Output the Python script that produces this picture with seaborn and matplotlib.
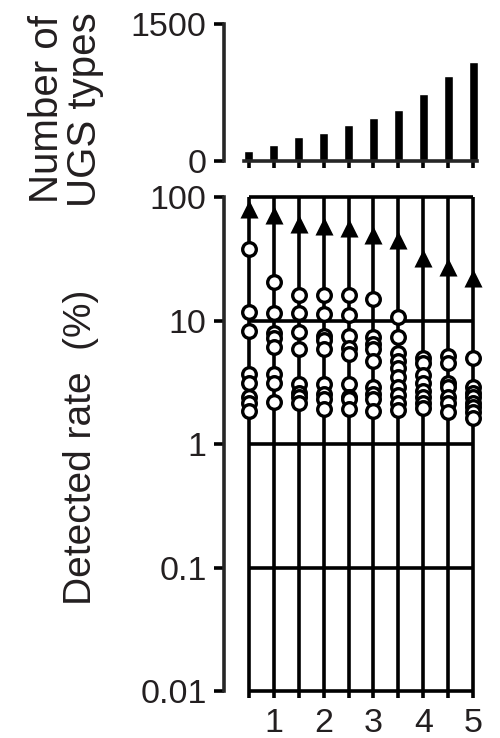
import matplotlib
matplotlib.use("Agg")
import matplotlib.pyplot as plt
import seaborn as sns
import pandas as pd
import numpy as np

# ---- data ----
groups = ["0.5", "1", "1.5", "2", "2.5", "3", "3.5", "4", "4.5", "5"]
tick_labels = ["", "1", "", "2", "", "3", "", "4", "", "5"]
ugs_counts = [113, 175, 266, 310, 390, 467, 558, 734, 927, 1088]
max_rate = [80, 71, 61, 58, 56, 49, 45, 32, 27, 22]
rates_g1 = [38, 11.7, 8.2, 3.7, 3.1, 2.4, 2.15, 1.85]
rates_g2 = [20.5, 11.6, 7.9, 7.2, 6.1, 3.7, 3.1, 2.2]
rates_g3 = [16, 11.6, 8.0, 5.9, 3.06, 2.6, 2.4, 2.15]
rates_g4 = [16, 11.4, 7.5, 6.9, 5.9, 3.06, 2.55, 2.3, 1.93]
rates_g5 = [16, 11.0, 7.5, 6.0, 5.4, 3.06, 2.4, 2.3, 1.93]
rates_g6 = [15, 7.3, 6.5, 5.9, 4.7, 2.87, 2.55, 2.3, 1.85]
rates_g7 = [10.6, 7.4, 5.5, 4.7, 4.1, 3.5, 2.9, 2.5, 2.15, 1.9]
rates_g8 = [5.0, 4.5, 3.6, 3.1, 2.7, 2.4, 2.15, 1.95]
rates_g9 = [5.2, 4.5, 3.1, 2.9, 2.4, 2.15, 1.8]
rates_g10 = [5.0, 2.87, 2.6, 2.4, 2.15, 1.98, 1.8, 1.61]
y_ticks = [0.01, 0.1, 1, 10, 100]
y_tick_labels = ["0.01", "0.1", "1", "10", "100"]

all_rates = [rates_g1, rates_g2, rates_g3, rates_g4, rates_g5,
             rates_g6, rates_g7, rates_g8, rates_g9, rates_g10]
df_pts = pd.DataFrame({
    "group": [g for g, r in zip(groups, all_rates) for _ in r],
    "rate": [v for r in all_rates for v in r],
})
df_bar = pd.DataFrame({"group": groups, "count": ugs_counts})
df_max = pd.DataFrame({"group": groups, "rate": max_rate})

# ---- style ----
sns.set_style("ticks")
plt.rcParams["font.family"] = ["Liberation Sans", "DejaVu Sans"]
TXT = "#231f20"
LW = 2.6

fig = plt.figure(figsize=(5.0, 7.38), dpi=100)
L, R = 0.448, 0.956
ax_top = fig.add_axes([L, 0.7818, R - L, 0.9675 - 0.7818])
ax_bot = fig.add_axes([L, 0.0637, R - L, 0.733 - 0.0637])

# ---- top bar chart ----
sns.barplot(data=df_bar, x="group", y="count", order=groups, color="black",
            width=0.36, ax=ax_top, saturation=1)
ax_top.set_ylim(0, 1500)
ax_top.set_xlim(-1.0, 9.2)
ax_top.set_yticks([0, 1500])
ax_top.set_yticklabels(["0", "1500"])
ax_top.set_xticks(range(len(groups)))
ax_top.set_xticklabels([])
ax_top.set_xlabel("")
ax_top.set_ylabel("")
for s in ["top", "right"]:
    ax_top.spines[s].set_visible(False)
ax_top.spines["left"].set_linewidth(LW)
ax_top.spines["bottom"].set_linewidth(LW)
ax_top.spines["bottom"].set_bounds(-0.18, 9.16)
ax_top.tick_params(axis="y", length=7.5, width=LW, labelsize=24.5, pad=5,
                   labelcolor=TXT, color="black")
ax_top.tick_params(axis="x", length=5, width=LW, color="black")

# ---- bottom log chart ----
ax_bot.set_yscale("log")
pos = np.arange(len(groups))
ax_bot.vlines(pos, y_ticks[0], y_ticks[-1], color="black", lw=LW, zorder=1)
ax_bot.hlines(y_ticks, pos[0], pos[-1], color="black", lw=LW, zorder=1)
sns.stripplot(data=df_pts, x="group", y="rate", order=groups, jitter=False,
              color="white", edgecolor="black", linewidth=2.4, size=9.8,
              marker="o", ax=ax_bot, zorder=3)
sns.stripplot(data=df_max, x="group", y="rate", order=groups, jitter=False,
              color="black", marker="^", size=13, linewidth=0, ax=ax_bot, zorder=4)
for coll in ax_bot.collections:
    coll.set_clip_on(False)
ax_bot.set_ylim(y_ticks[0], y_ticks[-1])
ax_bot.set_xlim(-1.0, 9.2)
ax_bot.set_yticks(y_ticks)
ax_bot.set_yticklabels(y_tick_labels)
ax_bot.yaxis.set_minor_locator(matplotlib.ticker.NullLocator())
ax_bot.set_xticks(pos)
ax_bot.set_xticklabels(tick_labels)
ax_bot.set_xlabel("")
ax_bot.set_ylabel("")
for s in ["top", "right", "bottom"]:
    ax_bot.spines[s].set_visible(False)
ax_bot.spines["left"].set_linewidth(LW)
ax_bot.tick_params(axis="y", length=7.5, width=LW, labelsize=24.5, pad=5,
                   labelcolor=TXT, color="black")
ax_bot.tick_params(axis="x", length=5, width=LW, labelsize=24.5, pad=7,
                   labelcolor=TXT, color="black")

# ---- axis titles ----
fig.text(0.132, 0.852, "Number of\nUGS types", rotation=90, ha="center",
         va="center", fontsize=29, color=TXT, linespacing=1.0)
fig.text(0.162, 0.394, "Detected rate  (%)", rotation=90, ha="center",
         va="center", fontsize=28, color=TXT)

fig.savefig("out.png", dpi=100)
